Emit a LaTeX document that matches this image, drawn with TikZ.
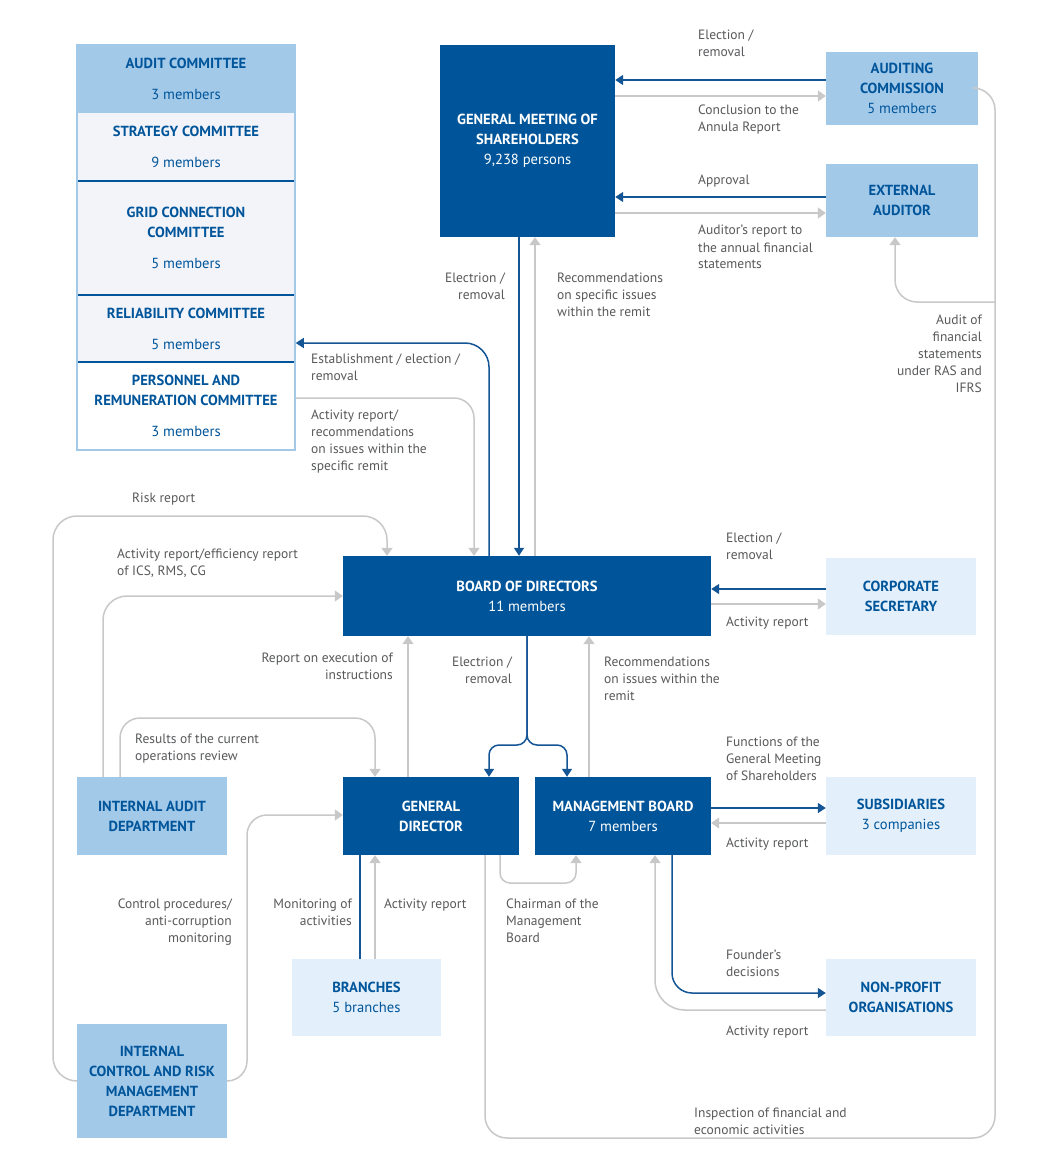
\documentclass[tikz,border=0pt]{standalone}
\usepackage{fontspec}
\setmainfont{PT Sans}
\usetikzlibrary{arrows.meta,calc}
\definecolor{dkblue}{RGB}{0,85,154}
\definecolor{mdblue}{RGB}{163,201,233}
\definecolor{ltblue}{RGB}{227,240,251}
\definecolor{pale}{RGB}{242,244,250}
\definecolor{lbl}{RGB}{88,89,91}
\definecolor{grayln}{RGB}{200,200,200}
\definecolor{blueln}{RGB}{20,85,150}
\newcommand\boxfont{\fontsize{14.6}{20}\selectfont}
\newcommand\labfont{\fontsize{13.5}{17}\selectfont}
\tikzset{
  box/.style={inner sep=0pt, align=center, font=\boxfont},
  dkbox/.style={box, fill=dkblue, text=white},
  mdbox/.style={box, fill=mdblue, text=dkblue},
  ltbox/.style={box, fill=ltblue, text=dkblue},
  cmbox/.style={box, fill=pale, text=dkblue, minimum width=218pt},
  lab/.style={text=lbl, font=\labfont, inner sep=0pt, align=left, anchor=base west},
  labr/.style={text=lbl, font=\labfont, inner sep=0pt, align=right, anchor=base east},
  bl/.style={draw=blueln, line width=1.5pt},
  blarr/.style={bl, -{Triangle[width=10pt,length=8pt]}},
  gr/.style={draw=grayln, line width=1.5pt},
  grarr/.style={gr, -{Triangle[width=11pt,length=8pt]}},
}
\begin{document}
\begin{tikzpicture}[x=1pt,y=-1pt]
\fill[white] (0,0) rectangle (1049,1158);
\useasboundingbox (0,0) rectangle (1049,1158);

% committees
\node[cmbox, fill=mdblue, minimum height=68pt] (audc) at (186,79) {\textbf{AUDIT COMMITTEE}\\[11pt]3 members};
\node[cmbox, minimum height=68pt] (strc) at (186,147) {\textbf{STRATEGY COMMITTEE}\\[11pt]9 members};
\node[cmbox, minimum height=114pt] (gridc) at (186,238) {\textbf{GRID CONNECTION}\\\textbf{COMMITTEE}\\[11pt]5 members};
\node[cmbox, minimum height=67pt] (relc) at (186,328.5) {\textbf{RELIABILITY COMMITTEE}\\[11pt]5 members};
\node[cmbox, fill=white, minimum height=88pt] (perc) at (186,406) {\textbf{PERSONNEL AND}\\\textbf{REMUNERATION COMMITTEE}\\[11pt]3 members};
\draw[dkblue, line width=1.5pt] (strc.south west) -- (strc.south east);
\draw[dkblue, line width=1.5pt] (gridc.south west) -- (gridc.south east);
\draw[dkblue, line width=1.5pt] (relc.south west) -- (relc.south east);
\node[draw=mdblue, line width=1.5pt, minimum width=218pt, minimum height=405pt, inner sep=0pt] (comm) at (186,247.5) {};

% main boxes
\node[dkbox, minimum width=175pt, minimum height=192pt] (gms) at (527.5,141) {\textbf{GENERAL MEETING OF}\\\textbf{SHAREHOLDERS}\\9,238 persons};
\node[mdbox, minimum width=152pt, minimum height=73pt] (ac) at (902,88.5) {\textbf{AUDITING}\\\textbf{COMMISSION}\\5 members};
\node[mdbox, minimum width=152pt, minimum height=73pt] (ea) at (902,200.5) {\textbf{EXTERNAL}\\\textbf{AUDITOR}};
\node[dkbox, minimum width=368pt, minimum height=80pt] (bod) at (527,596) {\textbf{BOARD OF DIRECTORS}\\11 members};
\node[ltbox, minimum width=150pt, minimum height=77pt] (cs) at (901,596.5) {\textbf{CORPORATE}\\\textbf{SECRETARY}};
\node[mdbox, minimum width=150pt, minimum height=78pt] (iad) at (152,816) {\textbf{INTERNAL AUDIT}\\\textbf{DEPARTMENT}};
\node[dkbox, minimum width=176pt, minimum height=78pt] (gd) at (431,816) {\textbf{GENERAL}\\\textbf{DIRECTOR}};
\node[dkbox, minimum width=176pt, minimum height=78pt] (mb) at (623,816) {\textbf{MANAGEMENT BOARD}\\7 members};
\node[ltbox, minimum width=150pt, minimum height=78pt] (subs) at (901,816) {\textbf{SUBSIDIARIES}\\3 companies};
\node[ltbox, minimum width=149pt, minimum height=77pt] (br) at (366.5,997.5) {\textbf{BRANCHES}\\5 branches};
\node[ltbox, minimum width=150pt, minimum height=77pt] (npo) at (901,997.5) {\textbf{NON-PROFIT}\\\textbf{ORGANISATIONS}};
\node[mdbox, minimum width=150pt, minimum height=114pt] (icrm) at (152,1081) {\textbf{INTERNAL}\\\textbf{CONTROL AND RISK}\\\textbf{MANAGEMENT}\\\textbf{DEPARTMENT}};

\coordinate (jn) at (995,302);

% GMS <-> AC, EA
\draw[blarr] (ac.west |- 0,80) -- (gms.east |- 0,80);
\draw[grarr] (gms.east |- 0,96) -- (ac.west |- 0,96);
\draw[blarr] (ea.west |- 0,197) -- (gms.east |- 0,197);
\draw[grarr] (gms.east |- 0,213) -- (ea.west |- 0,213);
% AC loop
\draw[gr, rounded corners=22pt] (ac.east |- 0,88) -- (995,88) -- (995,1138) -- (485,1138) -- (gd.south -| 485,0);
\draw[grarr, rounded corners=22pt] (jn) -- (895,302) -- (ea.south -| 895,0);
% GMS <-> BoD
\draw[blarr] (gms.south -| 519,0) -- (bod.north -| 519,0);
\draw[grarr] (bod.north -| 535,0) -- (gms.south -| 535,0);
% BoD <-> committees
\draw[blarr, rounded corners=24pt] (bod.north -| 489,0) -- (489,343) -- (comm.east |- 0,343);
\draw[grarr, rounded corners=20pt] (comm.east |- 0,398) -- (474,398) -- (bod.north -| 474,0);
% risk report
\draw[grarr, rounded corners=24pt] (icrm.west |- 0,1081) -- (53,1081) -- (53,516) -- (387,516) -- (bod.north -| 387,0);
% IAD
\draw[grarr, rounded corners=24pt] (iad.north -| 103,0) -- (103,596) -- (bod.west |- 0,596);
\draw[grarr, rounded corners=20pt] (iad.north -| 120,0) -- (120,718) -- (375,718) -- (gd.north -| 375,0);
% ICRM -> GD
\draw[grarr, rounded corners=20pt] (icrm.east |- 0,1081) -- (247,1081) -- (247,815) -- (gd.west |- 0,815);
% BoD -> GD, MB
\draw[blarr, rounded corners=10pt] (bod.south) -- (527,745) -- (489,745) -- (gd.north -| 489,0);
\draw[blarr, rounded corners=10pt] (bod.south) -- (527,745) -- (567,745) -- (mb.north -| 567,0);
\draw[grarr] (gd.north -| 408,0) -- (bod.south -| 408,0);
\draw[grarr] (mb.north -| 589,0) -- (bod.south -| 589,0);
% CS
\draw[blarr] (cs.west |- 0,589) -- (bod.east |- 0,589);
\draw[grarr] (bod.east |- 0,604) -- (cs.west |- 0,604);
% Subs
\draw[blarr] (mb.east |- 0,808) -- (subs.west |- 0,808);
\draw[grarr] (subs.west |- 0,823) -- (mb.east |- 0,823);
% chairman
\draw[grarr, rounded corners=10pt] (gd.south -| 500,0) -- (500,883) -- (576,883) -- (mb.south -| 576,0);
% NPO
\draw[blarr, rounded corners=20pt] (mb.south -| 672,0) -- (672,993) -- (npo.west |- 0,993);
\draw[grarr, rounded corners=30pt] (npo.west |- 0,1010) -- (655,1010) -- (mb.south -| 655,0);
% branches
\draw[bl] (br.north -| 360,0) -- (gd.south -| 360,0);
\draw[grarr] (br.north -| 375,0) -- (gd.south -| 375,0);

% labels (y = baseline of last line)
\node[lab] at (698,57) {Election /\\removal};
\node[lab] at (698,132) {Conclusion to the\\Annula Report};
\node[lab] at (698,185) {Approval};
\node[lab] at (698,269) {Auditor’s report to\\the annual financial\\statements};
\node[labr] at (505,299) {Electrion /\\removal};
\node[lab] at (557,316) {Recommendations\\on specific issues\\within the remit};
\node[labr] at (982,392) {Audit of\\financial\\statements\\under RAS and\\IFRS};
\node[lab] at (311,380) {Establishment / election /\\removal};
\node[lab] at (311,470) {Activity report/\\recommendations\\on issues within the\\specific remit};
\node[lab] at (132,502) {Risk report};
\node[lab] at (117,575) {Activity report/efficiency report\\of ICS, RMS, CG};
\node[lab] at (726,559) {Election /\\removal};
\node[lab] at (726,626) {Activity report};
\node[labr] at (393,679) {Report on execution of\\instructions};
\node[labr] at (512,683) {Electrion /\\removal};
\node[lab] at (604,700) {Recommendations\\on issues within the\\remit};
\node[lab] at (135,760) {Results of the current\\operations review};
\node[lab] at (726,780) {Functions of the\\General Meeting\\of Shareholders};
\node[lab] at (726,847) {Activity report};
\node[labr] at (232,942) {Control procedures/\\anti-corruption\\monitoring};
\node[labr] at (352,925) {Monitoring of\\activities};
\node[lab] at (384,908) {Activity report};
\node[lab] at (506,942) {Chairman of the\\Management\\Board};
\node[lab] at (726,976) {Founder’s\\decisions};
\node[lab] at (726,1035) {Activity report};
\node[lab] at (694,1134) {Inspection of financial and\\economic activities};
\end{tikzpicture}
\end{document}
